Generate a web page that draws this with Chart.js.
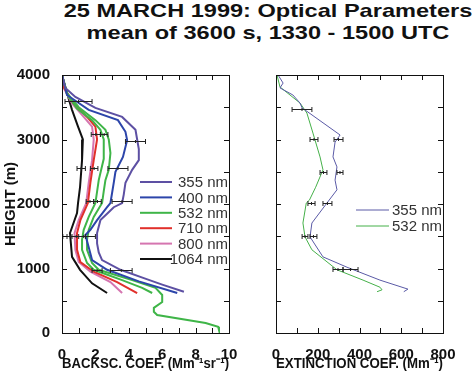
<!DOCTYPE html>
<html>
<head>
<meta charset="utf-8">
<script src="https://cdn.jsdelivr.net/npm/chart.js@4/dist/chart.umd.min.js"></script>
<style>
  body { margin: 0; background: #fff; overflow: hidden; width: 475px; height: 375px; }
  #title { position: absolute; left: 38px; top: 0px; width: 460px; text-align: center;
           font: bold 19px "Liberation Sans", Arial, sans-serif; line-height: 22px; color: #111;
           white-space: nowrap; transform: scaleX(1.24); transform-origin: 50% 0; }
  canvas { position: absolute; top: 0; }
</style>
</head>
<body>
<div id="title">25 MARCH 1999: Optical Parameters<br>mean of 3600 s, 1330 - 1500 UTC</div>
<canvas id="BackscChart" width="245" height="375" style="left:0"></canvas>
<canvas id="ExtinctChart" width="230" height="375" style="left:245px"></canvas>
<script>
// Backscatter profiles, heights (m) and values (Mm-1 sr-1)
const h355 = [4000, 3800, 3660, 3490, 3350, 3150, 3000, 2850, 2680, 2530, 2330, 2150, 2015, 1950, 1850, 1750, 1550, 1390, 1250, 1130, 980, 850, 750, 640];
const b355 = [0, 0.2, 0.8, 2.0, 3.6, 4.4, 4.5, 4.6, 4.6, 4.2, 3.8, 3.7, 3.6, 3.1, 2.7, 2.3, 2.1, 2.1, 2.2, 2.4, 3.5, 4.9, 6.0, 7.3];
const h400 = [4000, 3690, 3460, 3300, 3120, 2990, 2730, 2500, 2330, 2015, 1950, 1750, 1600, 1520, 1330, 1130, 980, 800, 620];
const b400 = [0, 0.3, 1.6, 3.35, 3.8, 3.9, 3.65, 3.2, 3.1, 2.9, 2.7, 2.1, 1.7, 1.4, 1.6, 1.8, 2.7, 4.6, 6.9];
const h532a = [4000, 3720, 3500, 3300, 3150, 3000, 2790, 2530, 2370, 2200, 2015, 1800, 1600, 1450, 1290, 1085, 980, 820, 700, 590, 480, 390, 330, 280, 155, 95, 45];
const b532a = [0, 0.3, 1.0, 2.0, 2.6, 2.8, 2.9, 2.8, 2.6, 2.5, 2.4, 1.9, 1.6, 1.5, 1.5, 1.8, 2.2, 4.2, 5.6, 6.0, 6.0, 5.5, 5.5, 5.7, 8.6, 9.35, 9.4];
const h532b = [4000, 3700, 3480, 3300, 3150, 3000, 2700, 2370, 2015, 1800, 1600, 1450, 1290, 1085, 980, 820, 700, 620];
const b532b = [0, 0.3, 0.9, 1.8, 2.3, 2.5, 2.5, 2.2, 2.0, 1.6, 1.3, 1.2, 1.2, 1.5, 1.9, 3.6, 4.8, 5.4];
const h710 = [4000, 3810, 3560, 3350, 3200, 3000, 2680, 2330, 2015, 1750, 1550, 1290, 1100, 950, 790, 620];
const b710 = [0, 0.1, 0.7, 1.5, 2.0, 2.1, 1.9, 1.7, 1.55, 1.1, 0.9, 0.9, 1.1, 1.9, 3.3, 4.5];
const h800 = [4000, 3800, 3560, 3350, 3200, 3000, 2680, 2330, 2015, 1750, 1550, 1290, 1100, 950, 790, 620];
const b800 = [0, 0.1, 0.6, 1.3, 1.8, 1.9, 1.8, 1.6, 1.45, 1.0, 0.75, 0.8, 1.0, 1.7, 2.9, 3.6];
const h1064 = [4000, 3720, 3460, 3200, 3000, 2680, 2260, 2015, 1860, 1550, 1180, 980, 770, 620];
const b1064 = [0, 0.3, 0.6, 0.96, 1.25, 1.2, 1.08, 0.96, 0.9, 0.48, 0.6, 1.08, 1.8, 2.7];

// Extinction profiles (Mm-1)
const hE355 = [4000, 3875, 3800, 3690, 3565, 3490, 3070, 2960, 2730, 2575, 2370, 2220, 2015, 1705, 1490, 1180, 1020, 820, 680, 640];
const e355 = [10, 34, 19, 81, 115, 125, 307, 283, 273, 292, 283, 292, 244, 172, 163, 225, 340, 498, 632, 612];
const hE532 = [4000, 3815, 3690, 3565, 3410, 3100, 2730, 2530, 2260, 2060, 2015, 1705, 1490, 1290, 980, 820, 710, 670, 640];
const e532 = [5, 19, 67, 115, 148, 177, 211, 225, 190, 160, 145, 129, 139, 172, 292, 417, 498, 508, 484];

// Error bars: height, low end, high end
const ebBackH = [3600, 3085, 3085, 2980, 2560, 2560, 2560, 2050, 2050, 2050, 1500, 1500, 1500, 980, 980];
const ebBackLo = [0.18, 1.75, 2.3, 3.8, 0.9, 1.7, 2.75, 1.45, 1.9, 3.0, 0.05, 0.3, 0.6, 1.8, 2.9];
const ebBackHi = [1.8, 2.3, 2.75, 5.0, 1.4, 2.15, 3.95, 1.9, 2.35, 4.2, 1.0, 1.4, 2.0, 2.4, 4.2];
const ebExtH = [3470, 3010, 3010, 2500, 2500, 2015, 2015, 1500, 1500, 990, 990];
const ebExtLo = [77, 163, 278, 211, 292, 153, 225, 125, 163, 273, 321];
const ebExtHi = [172, 201, 321, 244, 321, 187, 268, 153, 196, 321, 393];

const FONT = '"Liberation Sans", Arial, sans-serif';

// pair up heights and values into points for the scatter lines
function profile(heights, values) {
  return heights.map((hv, i) => ({ x: values[i], y: hv }));
}

// draws the closed frame with inward ticks on all four sides
const frameTicks = {
  id: 'frameTicks',
  afterDraw(chart) {
    const { ctx, chartArea: a, scales: { x, y } } = chart;
    ctx.save();
    ctx.strokeStyle = '#111';
    ctx.lineWidth = 1;
    ctx.strokeRect(a.left + 0.5, a.top + 0.5, a.right - a.left, a.bottom - a.top);
    ctx.beginPath();
    x.ticks.forEach(t => {
      const px = Math.round(x.getPixelForValue(t.value)) + 0.5;
      ctx.moveTo(px, a.bottom); ctx.lineTo(px, a.bottom - 5);
      ctx.moveTo(px, a.top); ctx.lineTo(px, a.top + 5);
    });
    y.ticks.forEach(t => {
      const py = Math.round(y.getPixelForValue(t.value)) + 0.5;
      ctx.moveTo(a.left, py); ctx.lineTo(a.left + 5, py);
      ctx.moveTo(a.right, py); ctx.lineTo(a.right - 5, py);
    });
    ctx.stroke();
    ctx.restore();
  }
};

// horizontal error bars with end caps
const errorBars = {
  id: 'errorBars',
  afterDatasetsDraw(chart, args, opts) {
    const { ctx, scales: { x, y } } = chart;
    ctx.save();
    ctx.strokeStyle = '#222';
    ctx.lineWidth = 1;
    ctx.beginPath();
    opts.h.forEach((hv, i) => {
      const py = Math.round(y.getPixelForValue(hv)) + 0.5;
      const x1 = x.getPixelForValue(opts.lo[i]);
      const x2 = x.getPixelForValue(opts.hi[i]);
      const xm = (x1 + x2) / 2;
      ctx.moveTo(x1, py); ctx.lineTo(x2, py);
      ctx.moveTo(x1, py - 2.5); ctx.lineTo(x1, py + 2.5);
      ctx.moveTo(x2, py - 2.5); ctx.lineTo(x2, py + 2.5);
      ctx.moveTo(xm, py - 1.5); ctx.lineTo(xm, py + 1.5);
    });
    ctx.stroke();
    ctx.restore();
  }
};

// legend drawn inside the plot, text right aligned
const boxLegend = {
  id: 'boxLegend',
  afterDraw(chart, args, opts) {
    const { ctx, chartArea: a } = chart;
    ctx.save();
    ctx.font = '15px ' + FONT;
    ctx.textAlign = 'right';
    ctx.textBaseline = 'middle';
    let row = 0;
    chart.data.datasets.forEach(ds => {
      if (ds.inLegend === false) return;
      const py = a.top + opts.top + row * opts.step;
      ctx.strokeStyle = ds.borderColor;
      ctx.lineWidth = opts.lineWidth;
      ctx.beginPath();
      ctx.moveTo(a.right - opts.lineFrom, py);
      ctx.lineTo(a.right - opts.lineTo, py);
      ctx.stroke();
      ctx.fillStyle = '#333';
      ctx.fillText(ds.label, a.right - 1, py + 1);
      row++;
    });
    ctx.restore();
  }
};

function line(label, data, color, width, inLegend) {
  return { label, data, borderColor: color, borderWidth: width, showLine: true,
           pointRadius: 0, tension: 0, inLegend };
}

function make_chart(id, datasets, xOpts, yOpts, pad, yWidth, plugOpts) {
  return new Chart(document.getElementById(id).getContext('2d'), {
    type: 'scatter',
    data: { datasets },
    plugins: [errorBars, frameTicks, boxLegend],
    options: {
      responsive: false,
      animation: false,
      layout: { padding: pad },
      plugins: {
        legend: { display: false },
        tooltip: { enabled: false },
        errorBars: plugOpts.errors,
        boxLegend: plugOpts.legend
      },
      scales: {
        x: Object.assign({
          type: 'linear',
          grid: { display: false },
          border: { display: false },
          afterFit: s => { s.height = 42; }
        }, xOpts),
        y: Object.assign({
          type: 'linear',
          min: 0, max: 4000,
          grid: { display: false },
          border: { display: false },
          afterFit: s => { s.width = yWidth; }
        }, yOpts)
      }
    }
  });
}

const tickFont = { family: FONT, size: 15, weight: 'bold' };

make_chart('BackscChart', [
  line('355 nm', profile(h355, b355), '#5d50a3', 2),
  line('400 nm', profile(h400, b400), '#2c45aa', 2),
  line('532 nm', profile(h532a, b532a), '#3fb548', 2),
  line('', profile(h532b, b532b), '#3fb548', 2, false),
  line('710 nm', profile(h710, b710), '#e1302b', 2),
  line('800 nm', profile(h800, b800), '#d575b0', 2),
  line('1064 nm', profile(h1064, b1064), '#111111', 2)
], {
  min: 0, max: 10,
  ticks: { stepSize: 1, padding: 5, color: '#111', font: tickFont, autoSkip: false,
           maxRotation: 0, minRotation: 0,
           callback: v => (v % 2 === 0 ? v : '') },
  title: { display: true, text: 'BACKSC. COEF. (Mm⁻¹sr⁻¹)', color: '#111',
           font: { family: FONT, size: 15, weight: 'bold' }, padding: { top: 0, bottom: 2 } }
}, {
  ticks: { stepSize: 500, padding: 4, color: '#111', font: tickFont, autoSkip: false,
           callback: v => (v % 1000 === 0 ? v : '') },
  title: { display: true, text: 'HEIGHT (m)', color: '#111',
           font: { family: FONT, size: 15, weight: 'bold' }, padding: { top: 2, bottom: 0 } }
}, { top: 75, right: 16, left: 0, bottom: 0 }, 62, {
  errors: { h: ebBackH, lo: ebBackLo, hi: ebBackHi },
  legend: { top: 107, step: 15.4, lineFrom: 89, lineTo: 57, lineWidth: 2 }
});

make_chart('ExtinctChart', [
  line('355 nm', profile(hE355, e355), '#5a5aa6', 1),
  line('532 nm', profile(hE532, e532), '#45b049', 1)
], {
  min: 0, max: 800,
  ticks: { stepSize: 100, padding: 5, color: '#111', font: tickFont, autoSkip: false,
           maxRotation: 0, minRotation: 0,
           callback: v => (v % 200 === 0 ? v : '') },
  title: { display: true, text: 'EXTINCTION COEF. (Mm⁻¹)', color: '#111',
           font: { family: FONT, size: 15, weight: 'bold' }, padding: { top: 0, bottom: 2 } }
}, {
  ticks: { stepSize: 500, display: true, autoSkip: false, callback: () => '' },
  title: { display: false }
}, { top: 75, right: 32, left: 0, bottom: 0 }, 31, {
  errors: { h: ebExtH, lo: ebExtLo, hi: ebExtHi },
  legend: { top: 135, step: 16, lineFrom: 87, lineTo: 54, lineWidth: 1 }
});
</script>
</body>
</html>
